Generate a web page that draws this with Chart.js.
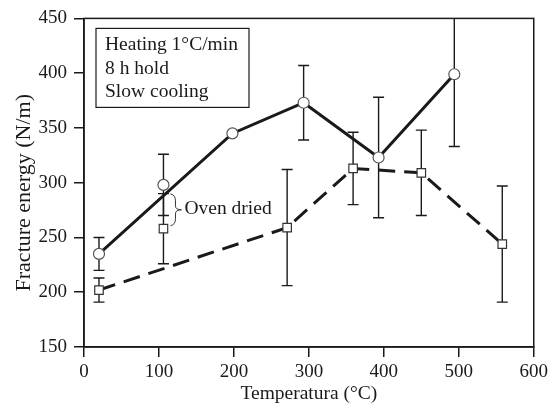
<!DOCTYPE html>
<html>
<head>
<meta charset="utf-8">
<script src="https://cdn.jsdelivr.net/npm/chart.js@4.4.1/dist/chart.umd.min.js"></script>
<style>
  html, body { margin: 0; padding: 0; background: #fff; }
  #wrap { width: 552px; height: 407px; position: relative; }
</style>
</head>
<body>
<div id="wrap"><canvas id="fractureChart"></canvas></div>
<script>
const SERIF = '"Liberation Serif", "Times New Roman", serif';
const INK = '#1a1a1a';

// heat-treated samples (circles, solid line)
const circleTemps = [20, 198, 293, 393, 494];
const circleEnergy = [235, 345, 373, 323, 399];
const circleErr = [15, 0, 34, 55, 66];

// heat-treated samples (squares, dashed line)
const squareTemps = [20, 271, 359, 450, 558];
const squareEnergy = [202, 259, 313, 309, 244];
const squareErr = [11, 53, 33, 39, 53];

// oven dried samples, not joined to the lines
const ovenTemps = [106];
const ovenCircleEnergy = [298];
const ovenCircleErr = [28];
const ovenSquareEnergy = [258];
const ovenSquareErr = [32];

// axes
const xMin = 0, xMax = 600, xStep = 100;
const yMin = 150, yMax = 450, yStep = 50;
const xTitle = 'Temperatura (°C)';
const yTitle = 'Fracture energy (N/m)';

const noteLines = ['Heating 1°C/min', '8 h hold', 'Slow cooling'];
const ovenLabel = 'Oven dried';

const pts = (xs, ys) => xs.map((x, i) => ({ x, y: ys[i] }));

const errorBars = {
  id: 'errorBars',
  beforeDatasetsDraw(chart) {
    const { ctx, chartArea: a, scales: { y } } = chart;
    ctx.save();
    ctx.beginPath();
    ctx.rect(a.left, a.top, a.right - a.left, a.bottom - a.top);
    ctx.clip();
    ctx.strokeStyle = INK;
    ctx.lineWidth = 1.4;
    chart.data.datasets.forEach((ds, i) => {
      if (!ds.errors) return;
      chart.getDatasetMeta(i).data.forEach((el, j) => {
        const e = ds.errors[j];
        if (!e) return;
        const v = ds.data[j].y;
        const top = y.getPixelForValue(v + e);
        const bot = y.getPixelForValue(v - e);
        ctx.beginPath();
        ctx.moveTo(el.x, top); ctx.lineTo(el.x, bot);
        ctx.moveTo(el.x - 5.5, top); ctx.lineTo(el.x + 5.5, top);
        ctx.moveTo(el.x - 5.5, bot); ctx.lineTo(el.x + 5.5, bot);
        ctx.stroke();
      });
    });
    ctx.restore();
  }
};

const decorations = {
  id: 'decorations',
  afterDraw(chart) {
    const { ctx, chartArea: a } = chart;
    ctx.save();
    // frame around the plot
    ctx.strokeStyle = INK;
    ctx.lineWidth = 1.5;
    ctx.strokeRect(a.left, a.top, a.right - a.left, a.bottom - a.top);

    // conditions box
    ctx.lineWidth = 1.2;
    ctx.strokeRect(a.left + 12, a.top + 10, 153, 79);
    ctx.fillStyle = INK;
    ctx.font = '19.5px ' + SERIF;
    ctx.textBaseline = 'alphabetic';
    noteLines.forEach((t, i) => ctx.fillText(t, a.left + 21, a.top + 32 + i * 23.3));

    // brace linking the oven dried pair
    const c = chart.getDatasetMeta(2).data[0];
    const s = chart.getDatasetMeta(3).data[0];
    const x0 = c.x + 7, y0 = c.y + 9, y1 = s.y - 3;
    const ym = (y0 + y1) / 2;
    ctx.lineWidth = 1;
    ctx.strokeStyle = '#333';
    ctx.beginPath();
    ctx.moveTo(x0, y0);
    ctx.quadraticCurveTo(x0 + 5, y0 + 1, x0 + 5, y0 + 7);
    ctx.lineTo(x0 + 5, ym - 4);
    ctx.quadraticCurveTo(x0 + 5, ym, x0 + 11, ym);
    ctx.quadraticCurveTo(x0 + 5, ym, x0 + 5, ym + 4);
    ctx.lineTo(x0 + 5, y1 - 7);
    ctx.quadraticCurveTo(x0 + 5, y1 - 1, x0, y1);
    ctx.stroke();
    ctx.font = '19.5px ' + SERIF;
    ctx.textBaseline = 'middle';
    ctx.fillText(ovenLabel, x0 + 14, ym - 1);

    // y axis title, sitting a little below the plot centre
    ctx.translate(24, (a.top + a.bottom) / 2 + 10);
    ctx.rotate(-Math.PI / 2);
    ctx.font = '22px ' + SERIF;
    ctx.textAlign = 'center';
    ctx.textBaseline = 'middle';
    ctx.fillText(yTitle, 0, 0);
    ctx.restore();
  }
};

const axisFont = { family: SERIF, size: 19 };

new Chart(document.getElementById('fractureChart'), {
  type: 'line',
  data: {
    datasets: [
      {
        data: pts(circleTemps, circleEnergy), errors: circleErr,
        borderColor: INK, borderWidth: 3, pointStyle: 'circle', pointRadius: 5.5,
        pointBackgroundColor: '#fff', pointBorderColor: '#555', pointBorderWidth: 1.2,
      },
      {
        data: pts(squareTemps, squareEnergy), errors: squareErr,
        borderColor: INK, borderWidth: 3, borderDash: [17, 9], pointStyle: 'rect', pointRadius: 6,
        pointBackgroundColor: '#fff', pointBorderColor: '#333', pointBorderWidth: 1.2,
      },
      {
        data: pts(ovenTemps, ovenCircleEnergy), errors: ovenCircleErr, showLine: false,
        pointStyle: 'circle', pointRadius: 5.5,
        pointBackgroundColor: '#fff', pointBorderColor: '#555', pointBorderWidth: 1.2,
      },
      {
        data: pts(ovenTemps, ovenSquareEnergy), errors: ovenSquareErr, showLine: false,
        pointStyle: 'rect', pointRadius: 6,
        pointBackgroundColor: '#fff', pointBorderColor: '#333', pointBorderWidth: 1.2,
      },
    ],
  },
  options: {
    responsive: true,
    maintainAspectRatio: false,
    animation: false,
    layout: { padding: { left: 0, top: 15, right: 15, bottom: 0 } },
    plugins: { legend: { display: false }, tooltip: { enabled: false } },
    scales: {
      x: {
        type: 'linear', min: xMin, max: xMax,
        ticks: { stepSize: xStep, color: INK, font: axisFont, padding: 4 },
        grid: { drawOnChartArea: false, tickLength: 10, color: INK, lineWidth: 1.5 },
        border: { color: INK, width: 1.5 },
        title: { display: true, text: xTitle, color: INK, font: { family: SERIF, size: 19.5 }, padding: { top: 0, bottom: 1 } },
        afterFit(s) { s.height = 60; },
      },
      y: {
        min: yMin, max: yMax,
        ticks: { stepSize: yStep, color: INK, font: axisFont, padding: 7 },
        grid: { drawOnChartArea: false, tickLength: 10, color: INK, lineWidth: 1.5 },
        border: { color: INK, width: 1.5 },
        afterFit(s) { s.width = 84; },
      },
    },
  },
  plugins: [errorBars, decorations],
});
</script>
</body>
</html>
